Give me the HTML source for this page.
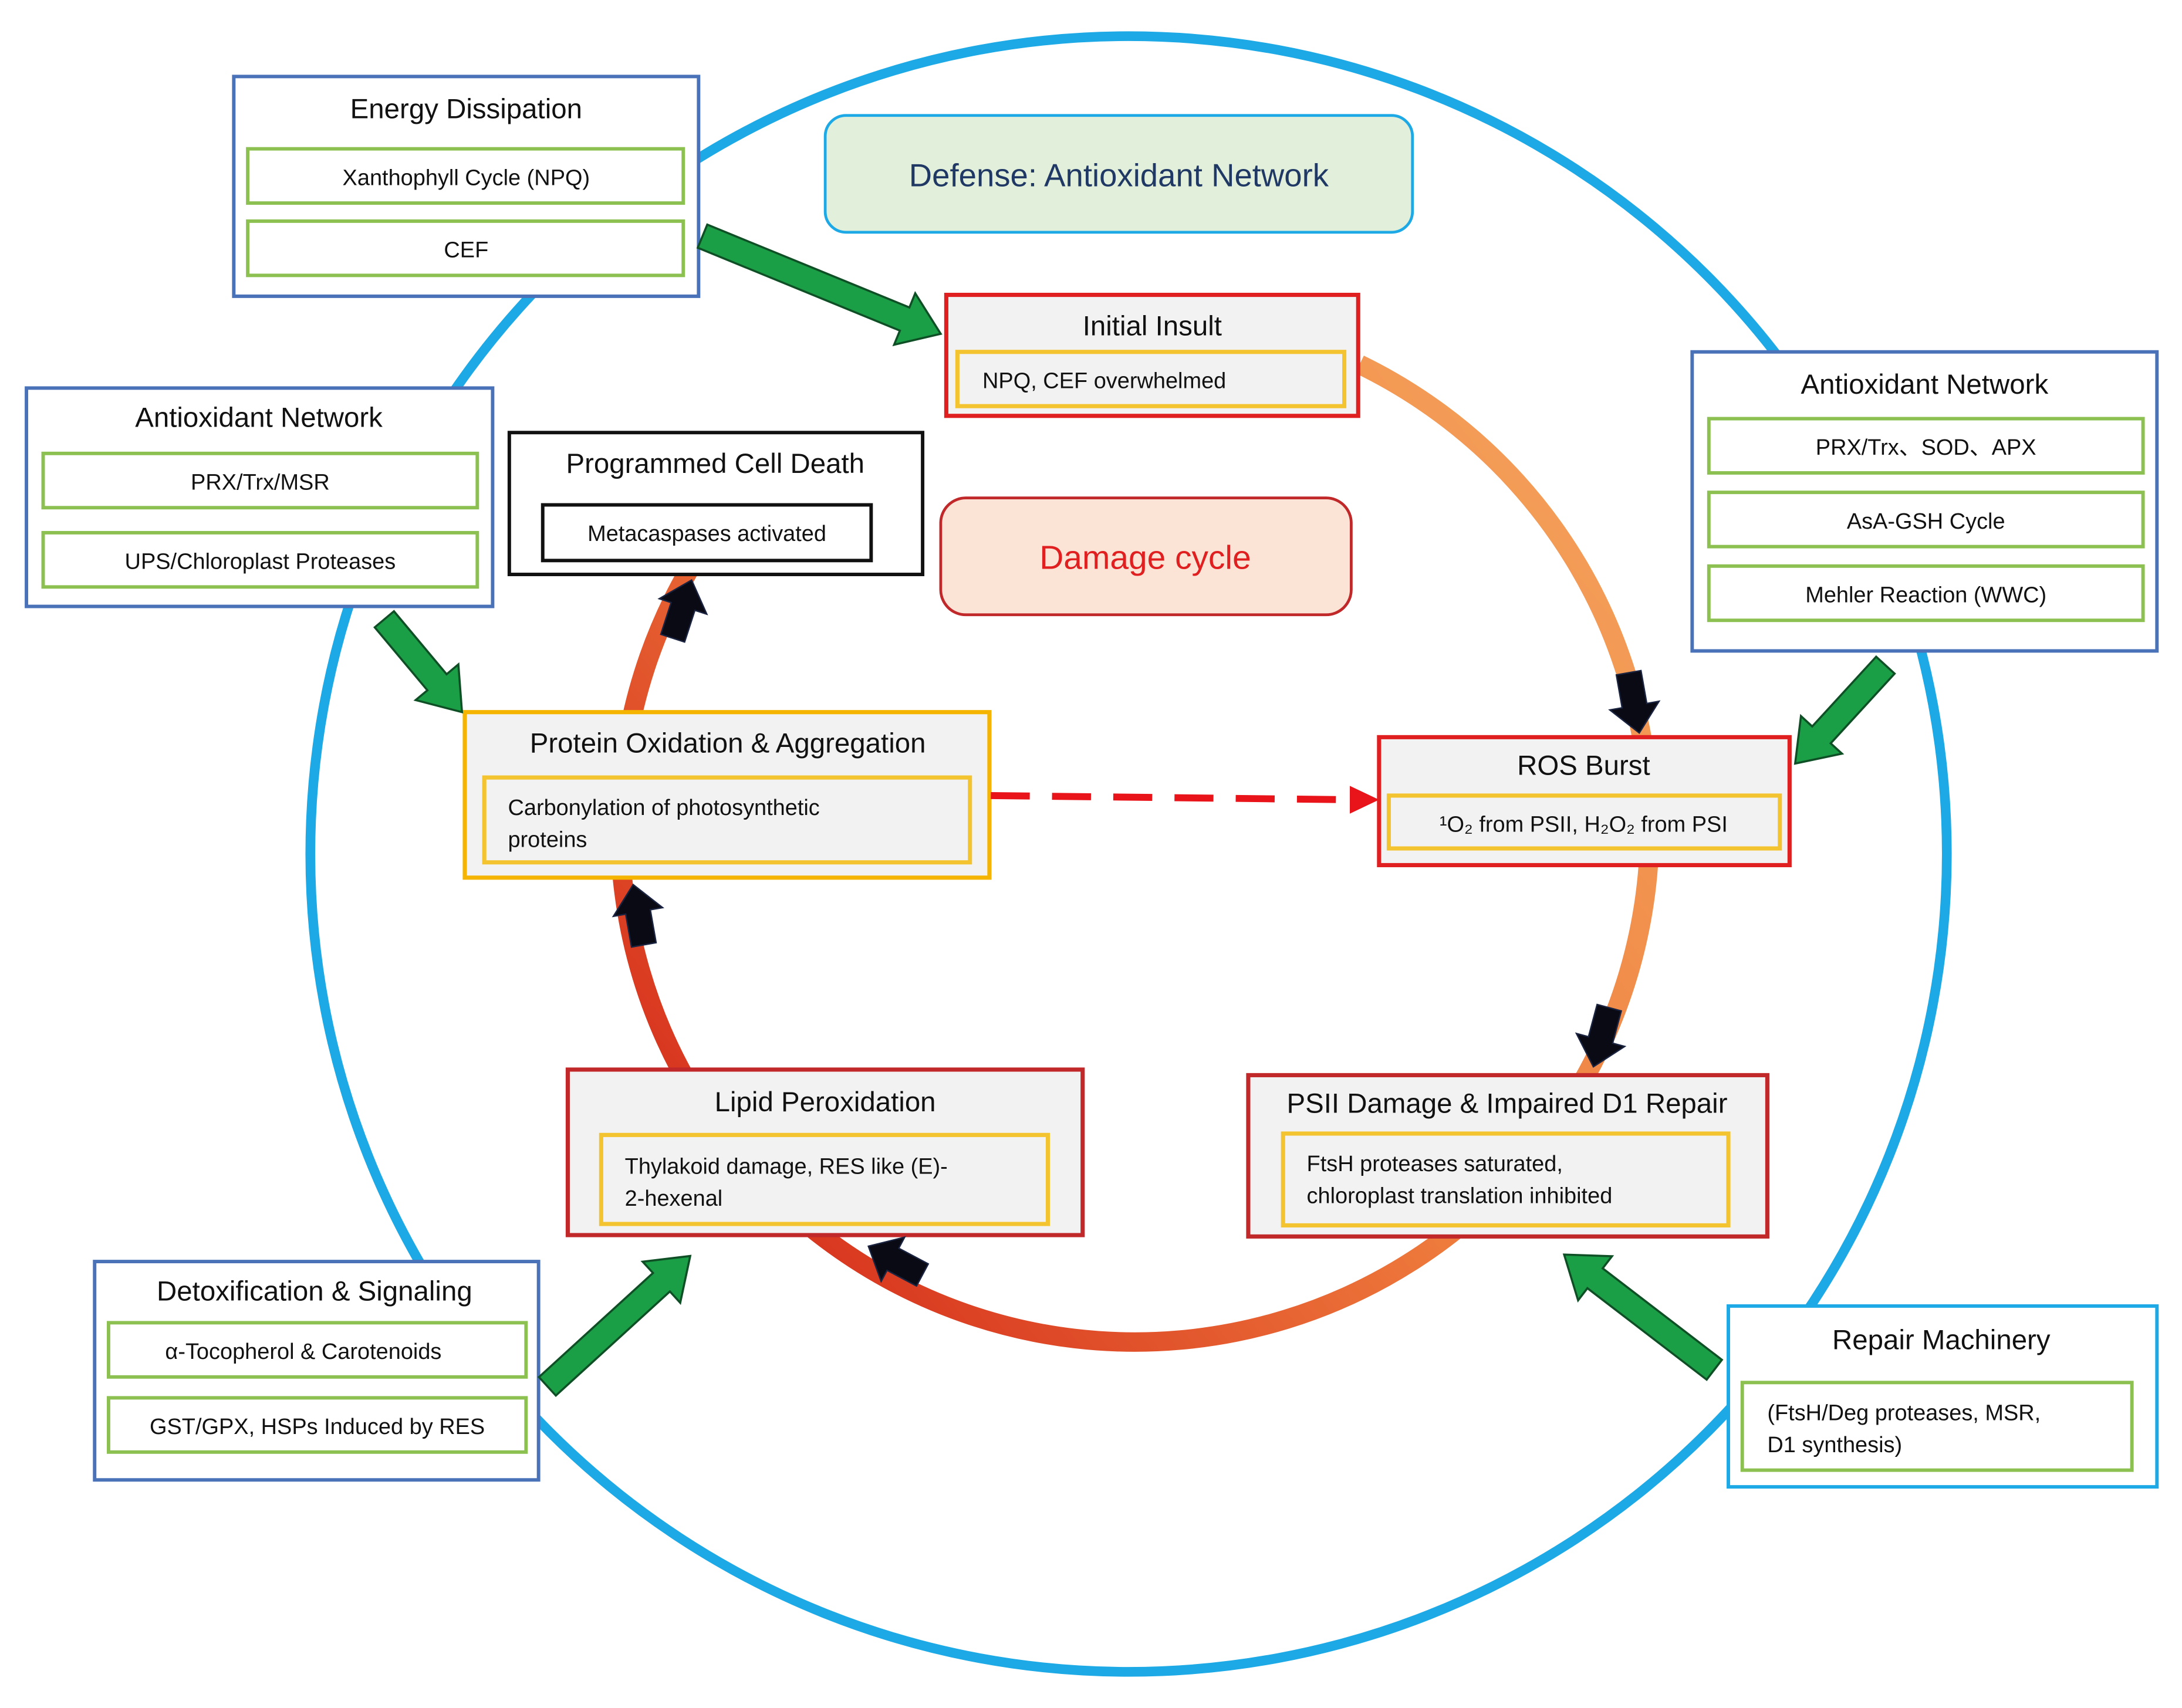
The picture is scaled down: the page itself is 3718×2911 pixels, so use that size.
<!DOCTYPE html>
<html><head><meta charset="utf-8"><style>
html,body{margin:0;padding:0;background:#fff;}
svg{display:block;}
text{font-family:"Liberation Sans","Noto Sans CJK SC",sans-serif;fill:#111;}
.t{font-size:20px;text-anchor:middle;}
.s{font-size:16px;text-anchor:middle;}
.l{font-size:16px;}
</style></head><body>
<svg width="3718" height="2911" viewBox="0 0 1568 1228" preserveAspectRatio="none" xmlns="http://www.w3.org/2000/svg">
<defs>
<linearGradient id="rg" gradientUnits="userSpaceOnUse" x1="1150" y1="350" x2="480" y2="880">
<stop offset="0" stop-color="#F4A05A"/>
<stop offset="0.5" stop-color="#EE7A3C"/>
<stop offset="1" stop-color="#D42A1A"/>
</linearGradient>
</defs>
<rect width="1568" height="1228" fill="#fff"/>
<circle cx="811" cy="614" r="588" fill="none" stroke="#1CA9E6" stroke-width="7"/>
<path d="M977 262 A370 370 0 1 1 495 410" fill="none" stroke="url(#rg)" stroke-width="14"/>

<rect x="168" y="55" width="334" height="158" fill="#fff" stroke="#4A72B8" stroke-width="2.5"/>
<text class="t" x="335" y="85">Energy Dissipation</text>
<rect x="178" y="107" width="313" height="39" fill="#fff" stroke="#8CC152" stroke-width="2.5"/>
<text class="s" x="335" y="133">Xanthophyll Cycle (NPQ)</text>
<rect x="178" y="159" width="313" height="39" fill="#fff" stroke="#8CC152" stroke-width="2.5"/>
<text class="s" x="335" y="185">CEF</text>

<rect x="593" y="83" width="422" height="84" rx="15" fill="#E2EFDA" stroke="#1CA9E6" stroke-width="2"/>
<text x="804" y="134" style="font-size:23px;text-anchor:middle;fill:#1F3864">Defense: Antioxidant Network</text>

<rect x="680" y="212" width="296" height="87" fill="#F2F2F2" stroke="#E02020" stroke-width="3"/>
<text class="t" x="828" y="241">Initial Insult</text>
<rect x="688" y="253" width="278" height="39" fill="#F2F2F2" stroke="#F4C430" stroke-width="3"/>
<text class="l" x="706" y="279">NPQ, CEF overwhelmed</text>

<rect x="19" y="279" width="335" height="157" fill="#fff" stroke="#4A72B8" stroke-width="2.5"/>
<text class="t" x="186" y="307">Antioxidant Network</text>
<rect x="31" y="326" width="312" height="39" fill="#fff" stroke="#8CC152" stroke-width="2.5"/>
<text class="s" x="187" y="352">PRX/Trx/MSR</text>
<rect x="31" y="383" width="312" height="39" fill="#fff" stroke="#8CC152" stroke-width="2.5"/>
<text class="s" x="187" y="409">UPS/Chloroplast Proteases</text>

<rect x="366" y="311" width="297" height="102" fill="#fff" stroke="#111" stroke-width="2.5"/>
<text class="t" x="514" y="340">Programmed Cell Death</text>
<rect x="390" y="363" width="236" height="40" fill="#fff" stroke="#111" stroke-width="2.5"/>
<text class="s" x="508" y="389">Metacaspases activated</text>

<rect x="676" y="358" width="295" height="84" rx="18" fill="#FBE3D6" stroke="#C0282A" stroke-width="2"/>
<text x="823" y="409" style="font-size:24px;text-anchor:middle;fill:#E02020">Damage cycle</text>

<rect x="1216" y="253" width="334" height="215" fill="#fff" stroke="#4A72B8" stroke-width="2.5"/>
<text class="t" x="1383" y="283">Antioxidant Network</text>
<rect x="1228" y="301" width="312" height="39" fill="#fff" stroke="#8CC152" stroke-width="2.5"/>
<text class="s" x="1384" y="327">PRX/Trx、SOD、APX</text>
<rect x="1228" y="354" width="312" height="39" fill="#fff" stroke="#8CC152" stroke-width="2.5"/>
<text class="s" x="1384" y="380">AsA-GSH Cycle</text>
<rect x="1228" y="407" width="312" height="39" fill="#fff" stroke="#8CC152" stroke-width="2.5"/>
<text class="s" x="1384" y="433">Mehler Reaction (WWC)</text>

<rect x="991" y="530" width="295" height="92" fill="#F2F2F2" stroke="#E02020" stroke-width="3"/>
<text class="t" x="1138" y="557">ROS Burst</text>
<rect x="998" y="572" width="281" height="38" fill="#F2F2F2" stroke="#F4C430" stroke-width="3"/>
<text class="s" x="1138" y="598">¹O₂ from PSII, H₂O₂ from PSI</text>

<rect x="334" y="512" width="377" height="119" fill="#F2F2F2" stroke="#F4B400" stroke-width="3"/>
<text class="t" x="523" y="541">Protein Oxidation &amp; Aggregation</text>
<rect x="348" y="559" width="349" height="61" fill="#F2F2F2" stroke="#F4C430" stroke-width="3"/>
<text class="l" x="365" y="586">Carbonylation of photosynthetic</text>
<text class="l" x="365" y="609">proteins</text>

<rect x="408" y="769" width="370" height="119" fill="#F2F2F2" stroke="#C0282A" stroke-width="3"/>
<text class="t" x="593" y="799">Lipid Peroxidation</text>
<rect x="432" y="816" width="321" height="64" fill="#F2F2F2" stroke="#F4C430" stroke-width="3"/>
<text class="l" x="449" y="844">Thylakoid damage, RES like (E)-</text>
<text class="l" x="449" y="867">2-hexenal</text>

<rect x="897" y="773" width="373" height="116" fill="#F2F2F2" stroke="#C0282A" stroke-width="3"/>
<text class="t" x="1083" y="800">PSII Damage &amp; Impaired D1 Repair</text>
<rect x="922" y="815" width="320" height="66" fill="#F2F2F2" stroke="#F4C430" stroke-width="3"/>
<text class="l" x="939" y="842">FtsH proteases saturated,</text>
<text class="l" x="939" y="865">chloroplast translation inhibited</text>

<rect x="68" y="907" width="319" height="157" fill="#fff" stroke="#4A72B8" stroke-width="2.5"/>
<text class="t" x="226" y="935">Detoxification &amp; Signaling</text>
<rect x="78" y="951" width="300" height="39" fill="#fff" stroke="#8CC152" stroke-width="2.5"/>
<text class="s" x="218" y="977">α-Tocopherol &amp; Carotenoids</text>
<rect x="78" y="1005" width="300" height="39" fill="#fff" stroke="#8CC152" stroke-width="2.5"/>
<text class="s" x="228" y="1031">GST/GPX, HSPs Induced by RES</text>

<rect x="1242" y="939" width="308" height="130" fill="#fff" stroke="#1CA9E6" stroke-width="2.5"/>
<text class="t" x="1395" y="970">Repair Machinery</text>
<rect x="1252" y="994" width="280" height="63" fill="#fff" stroke="#8CC152" stroke-width="2.5"/>
<text class="l" x="1270" y="1021">(FtsH/Deg proteases, MSR,</text>
<text class="l" x="1270" y="1044">D1 synthesis)</text>

<line x1="712" y1="572" x2="972" y2="575" stroke="#E8141A" stroke-width="5" stroke-dasharray="28 16"/>
<path d="M970 565 L991 575 L970 585 Z" fill="#E8141A"/>

<g fill="#1A9E46" stroke="#0F4F25" stroke-width="1.5">
<path transform="translate(676,240) rotate(22.3)" d="M-185 -9 L-28 -9 L-28 -20 L0 0 L-28 20 L-28 9 L-185 9 Z"/>
<path transform="translate(332,512) rotate(50.1)" d="M-87 -9 L-28 -9 L-28 -20 L0 0 L-28 20 L-28 9 L-87 9 Z"/>
<path transform="translate(1290,549) rotate(132.5)" d="M-96 -9 L-28 -9 L-28 -20 L0 0 L-28 20 L-28 9 L-96 9 Z"/>
<path transform="translate(496,903) rotate(-42.4)" d="M-139 -9 L-28 -9 L-28 -20 L0 0 L-28 20 L-28 9 L-139 9 Z"/>
<path transform="translate(1124,902) rotate(217.5)" d="M-136 -9 L-28 -9 L-28 -20 L0 0 L-28 20 L-28 9 L-136 9 Z"/>
</g>

<g fill="#0A0A14" stroke="#1a2440" stroke-width="1">
<path transform="translate(1178,527) rotate(80)" d="M-44 -9 L-20 -9 L-20 -18 L0 0 L-20 18 L-20 9 L-44 9 Z"/>
<path transform="translate(1145,767) rotate(105)" d="M-44 -9 L-20 -9 L-20 -18 L0 0 L-20 18 L-20 9 L-44 9 Z"/>
<path transform="translate(624,896) rotate(208)" d="M-44 -9 L-20 -9 L-20 -18 L0 0 L-20 18 L-20 9 L-44 9 Z"/>
<path transform="translate(455,636) rotate(-100)" d="M-44 -9 L-20 -9 L-20 -18 L0 0 L-20 18 L-20 9 L-44 9 Z"/>
<path transform="translate(497,417) rotate(-72)" d="M-44 -9 L-20 -9 L-20 -18 L0 0 L-20 18 L-20 9 L-44 9 Z"/>
</g>
</svg>
</body></html>
